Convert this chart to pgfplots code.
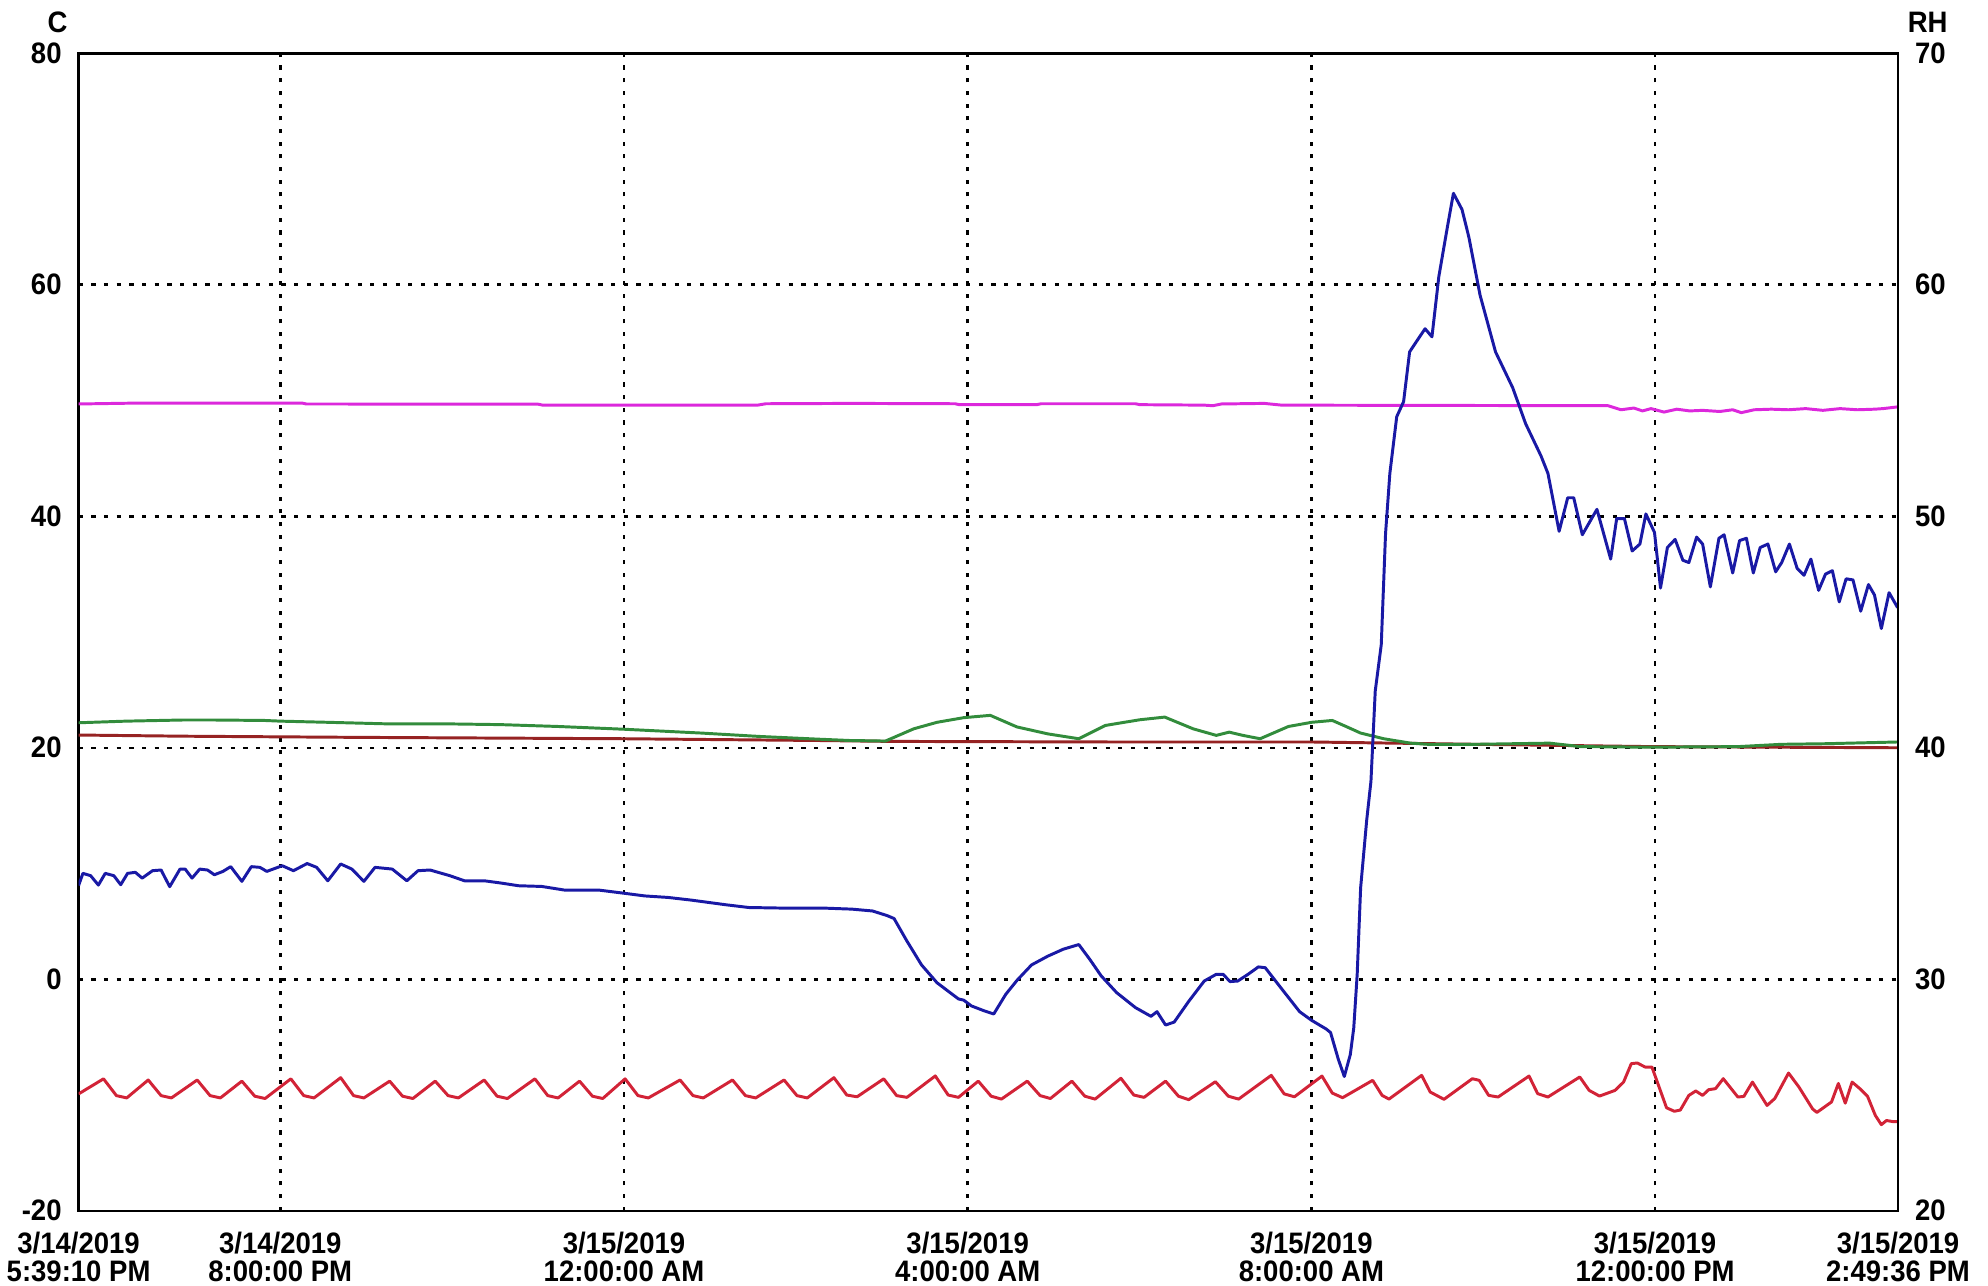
\documentclass[border=0pt]{standalone}
\usepackage{pgfplots}
\pgfplotsset{compat=1.18}
\usepackage{fontspec}
\setmainfont{Liberation Sans}[FakeStretch=0.93]
\newcommand{\lab}{\fontsize{7}{6.6}\selectfont\bfseries}
\definecolor{cblue}{RGB}{25,25,165}
\definecolor{cred}{RGB}{210,35,55}
\definecolor{cgreen}{RGB}{50,140,60}
\definecolor{cbrown}{RGB}{150,35,35}
\definecolor{cmag}{RGB}{220,40,220}
\begin{document}
\begin{tikzpicture}
\useasboundingbox (-18.6pt,-17.7pt) rectangle (451.8pt,286.5pt);
\begin{axis}[
  scale only axis, width=430.5pt, height=273.9pt,
  xmin=0, xmax=21.174, ymin=-20, ymax=80,
  clip mode=individual,
  xtick={0,2.347,6.347,10.347,14.347,18.347,21.174},
  xticklabels={{3/14/2019\\5:39:10 PM},{3/14/2019\\8:00:00 PM},{3/15/2019\\12:00:00 AM},{3/15/2019\\4:00:00 AM},{3/15/2019\\8:00:00 AM},{3/15/2019\\12:00:00 PM},{3/15/2019\\2:49:36 PM}},
  ytick={-20,0,20,40,60,80},
  major tick length=0pt,
  grid=major,
  major grid style={black, line width=0.6pt, dash pattern=on 1pt off 2pt},
  axis line style={black, line width=0.6pt},
  tick label style={font=\lab},
  xticklabel style={align=center, yshift=-1.5pt},
  yticklabel style={xshift=-0.5pt},
  /pgf/number format/assume math mode=true,
  every axis plot/.append style={line width=0.7pt, line join=round},
]
\node[font=\lab, xshift=-5pt, yshift=7.4pt] at (rel axis cs:0,1) {C};
\addplot[cmag] coordinates {(0,49.7) (0.7,49.78) (2.6,49.78) (2.65,49.7) (5.35,49.68) (5.4,49.6) (7.9,49.6) (8.0,49.72) (9.0,49.75) (10.2,49.72) (10.25,49.64) (11.15,49.64) (11.2,49.72) (12.3,49.72) (12.35,49.64) (13.1,49.6) (13.2,49.55) (13.3,49.7) (13.8,49.75) (14.0,49.6) (17.8,49.55) (17.95,49.2) (18.1,49.35) (18.2,49.1) (18.3,49.3) (18.45,49.0) (18.6,49.25) (18.75,49.1) (18.9,49.15) (19.1,49.05) (19.25,49.2) (19.35,48.95) (19.5,49.2) (19.7,49.25) (19.9,49.2) (20.1,49.3) (20.3,49.15) (20.5,49.3) (20.7,49.2) (20.9,49.25) (21.0,49.3) (21.17,49.45)};
\addplot[cbrown] coordinates {(0,21.1) (1.22,21.0) (3.23,20.9) (6.35,20.78) (8.59,20.63) (9.46,20.55) (12,20.5) (14.35,20.5) (16.26,20.3) (18.3,20.1) (21.17,20.0)};
\addplot[cgreen] coordinates {(0,22.16) (0.55,22.3) (1.22,22.4) (1.56,22.4) (2.16,22.36) (2.35,22.3) (2.9,22.2) (3.57,22.07) (4.24,22.07) (4.91,22.0) (5.58,21.84) (6.35,21.6) (7.25,21.27) (7.92,20.98) (8.59,20.75) (8.97,20.63) (9.39,20.58) (9.72,21.64) (9.99,22.2) (10.30,22.6) (10.61,22.8) (10.92,21.8) (11.28,21.2) (11.64,20.78) (11.95,21.93) (12.35,22.42) (12.64,22.65) (12.97,21.64) (13.24,21.07) (13.39,21.35) (13.55,21.07) (13.75,20.78) (14.08,21.84) (14.35,22.2) (14.59,22.36) (14.75,21.84) (14.92,21.27) (15.19,20.78) (15.50,20.4) (15.72,20.29) (16.26,20.3) (17.12,20.4) (17.48,20.1) (18.3,20.05) (19.31,20.1) (19.82,20.3) (20.33,20.35) (21.17,20.5)};
\addplot[cblue] coordinates {(0,8.1) (0.05,9.15) (0.14,8.95) (0.23,8.14) (0.31,9.15) (0.41,8.95) (0.49,8.17) (0.57,9.15) (0.66,9.24) (0.74,8.74) (0.86,9.38) (0.96,9.44) (1.06,8.0) (1.18,9.52) (1.24,9.52) (1.32,8.74) (1.41,9.52) (1.50,9.44) (1.58,9.03) (1.68,9.32) (1.77,9.73) (1.90,8.46) (2.01,9.73) (2.11,9.67) (2.19,9.32) (2.37,9.81) (2.50,9.38) (2.66,10.0) (2.77,9.67) (2.90,8.51) (3.05,9.96) (3.18,9.52) (3.32,8.46) (3.45,9.67) (3.65,9.52) (3.82,8.51) (3.95,9.38) (4.09,9.44) (4.32,8.95) (4.49,8.51) (4.72,8.51) (4.92,8.31) (5.12,8.08) (5.39,8.02) (5.66,7.7) (6.06,7.7) (6.33,7.45) (6.59,7.2) (6.86,7.07) (7.13,6.84) (7.33,6.64) (7.53,6.44) (7.80,6.2) (8.20,6.15) (8.67,6.15) (9.00,6.06) (9.24,5.9) (9.41,5.5) (9.49,5.25) (9.64,3.3) (9.81,1.24) (9.99,-0.3) (10.24,-1.7) (10.30,-1.8) (10.39,-2.3) (10.53,-2.7) (10.65,-3.0) (10.79,-1.3) (10.92,-0.1) (11.09,1.24) (11.28,2.0) (11.46,2.6) (11.64,3.0) (11.77,1.7) (11.90,0.3) (12.08,-1.15) (12.30,-2.45) (12.48,-3.2) (12.55,-2.8) (12.65,-3.95) (12.75,-3.7) (12.92,-1.9) (13.10,-0.15) (13.24,0.43) (13.32,0.43) (13.40,-0.2) (13.49,-0.15) (13.61,0.43) (13.73,1.07) (13.81,1.0) (13.99,-0.72) (14.21,-2.8) (14.35,-3.55) (14.52,-4.3) (14.57,-4.6) (14.66,-6.9) (14.73,-8.4) (14.80,-6.5) (14.84,-4.2) (14.88,0.43) (14.92,7.9) (14.99,13.7) (15.04,17.1) (15.09,24.9) (15.16,28.9) (15.21,38.5) (15.26,43.7) (15.34,48.6) (15.42,49.9) (15.49,54.2) (15.57,55.1) (15.67,56.2) (15.75,55.5) (15.83,60.7) (15.93,65) (16.00,67.9) (16.10,66.5) (16.18,64.1) (16.31,59.1) (16.49,54.2) (16.69,51.1) (16.84,48.0) (17.02,45.2) (17.10,43.7) (17.23,38.7) (17.33,41.6) (17.40,41.6) (17.50,38.4) (17.67,40.6) (17.83,36.3) (17.90,39.8) (17.99,39.8) (18.08,37) (18.17,37.6) (18.24,40.2) (18.34,38.6) (18.41,33.8) (18.49,37.3) (18.58,38) (18.67,36.2) (18.74,36) (18.83,38.2) (18.90,37.6) (18.99,33.9) (19.09,38.1) (19.15,38.4) (19.25,35.1) (19.33,37.9) (19.41,38.1) (19.49,35.1) (19.57,37.3) (19.66,37.6) (19.75,35.2) (19.82,36) (19.91,37.6) (20.0,35.5) (20.08,34.9) (20.16,36.3) (20.25,33.6) (20.33,35) (20.41,35.3) (20.49,32.6) (20.57,34.6) (20.65,34.5) (20.74,31.8) (20.83,34.1) (20.90,33.2) (20.98,30.3) (21.07,33.4) (21.17,32.1)};
\addplot[cred] coordinates {(0,-9.9)
(0.29,-8.6) (0.44,-10.05) (0.56,-10.25)
(0.81,-8.7) (0.96,-10.05) (1.08,-10.25)
(1.38,-8.7) (1.53,-10.05) (1.65,-10.25)
(1.90,-8.8) (2.05,-10.1) (2.17,-10.3)
(2.47,-8.6) (2.62,-10.05) (2.74,-10.25)
(3.05,-8.5) (3.20,-10.05) (3.32,-10.25)
(3.62,-8.8) (3.77,-10.1) (3.89,-10.3)
(4.15,-8.8) (4.30,-10.05) (4.42,-10.25)
(4.72,-8.7) (4.87,-10.1) (4.99,-10.3)
(5.31,-8.6) (5.46,-10.05) (5.58,-10.25)
(5.83,-8.8) (5.98,-10.1) (6.10,-10.3)
(6.36,-8.6) (6.51,-10.05) (6.63,-10.25)
(7.00,-8.7) (7.15,-10.05) (7.27,-10.25)
(7.61,-8.7) (7.76,-10.05) (7.88,-10.25)
(8.21,-8.7) (8.36,-10.05) (8.48,-10.25)
(8.79,-8.5) (8.94,-10.0) (9.06,-10.15)
(9.37,-8.6) (9.52,-10.05) (9.64,-10.2)
(9.97,-8.35) (10.12,-10.0) (10.24,-10.2)
(10.47,-8.8) (10.62,-10.1) (10.74,-10.35)
(11.04,-8.8) (11.19,-10.05) (11.31,-10.3)
(11.56,-8.8) (11.71,-10.1) (11.83,-10.35)
(12.13,-8.55) (12.28,-10.0) (12.40,-10.2)
(12.65,-8.8) (12.80,-10.1) (12.92,-10.4)
(13.23,-8.85) (13.38,-10.1) (13.50,-10.35)
(13.88,-8.3) (14.03,-9.9) (14.15,-10.15)
(14.47,-8.36) (14.59,-9.83) (14.71,-10.23)
(15.06,-8.73) (15.17,-10.03) (15.25,-10.35)
(15.63,-8.3) (15.73,-9.74) (15.89,-10.37)
(16.22,-8.59) (16.30,-8.73) (16.41,-10.03) (16.52,-10.17)
(16.88,-8.36) (16.98,-9.88) (17.10,-10.17)
(17.47,-8.44) (17.58,-9.6) (17.70,-10.09) (17.88,-9.6) (17.98,-8.88) (18.07,-7.29) (18.14,-7.23) (18.23,-7.58) (18.31,-7.58) (18.48,-11.1) (18.57,-11.4) (18.64,-11.3) (18.74,-10.03) (18.82,-9.65) (18.90,-10.03) (18.97,-9.54) (19.05,-9.45) (19.14,-8.59) (19.31,-10.17) (19.38,-10.12) (19.48,-8.88) (19.65,-10.9) (19.74,-10.3) (19.90,-8.1) (20.02,-9.3) (20.18,-11.2) (20.23,-11.5) (20.40,-10.6) (20.48,-9.0) (20.56,-10.7) (20.64,-8.88) (20.73,-9.45) (20.82,-10.12) (20.91,-11.76) (20.98,-12.56) (21.04,-12.2) (21.12,-12.3) (21.17,-12.3)};
\end{axis}
\begin{axis}[
  scale only axis, width=430.5pt, height=273.9pt,
  xmin=0, xmax=21.174, ymin=20, ymax=70,
  clip mode=individual,
  hide x axis,
  axis y line*=right,
  ytick={20,30,40,50,60,70},
  major tick length=0pt,
  axis line style={black, line width=0.6pt},
  tick label style={font=\lab},
  yticklabel style={xshift=0.5pt},
  /pgf/number format/assume math mode=true,
]
\node[font=\lab, xshift=7pt, yshift=7.4pt] at (rel axis cs:1,1) {RH};
\end{axis}
\end{tikzpicture}
\end{document}
